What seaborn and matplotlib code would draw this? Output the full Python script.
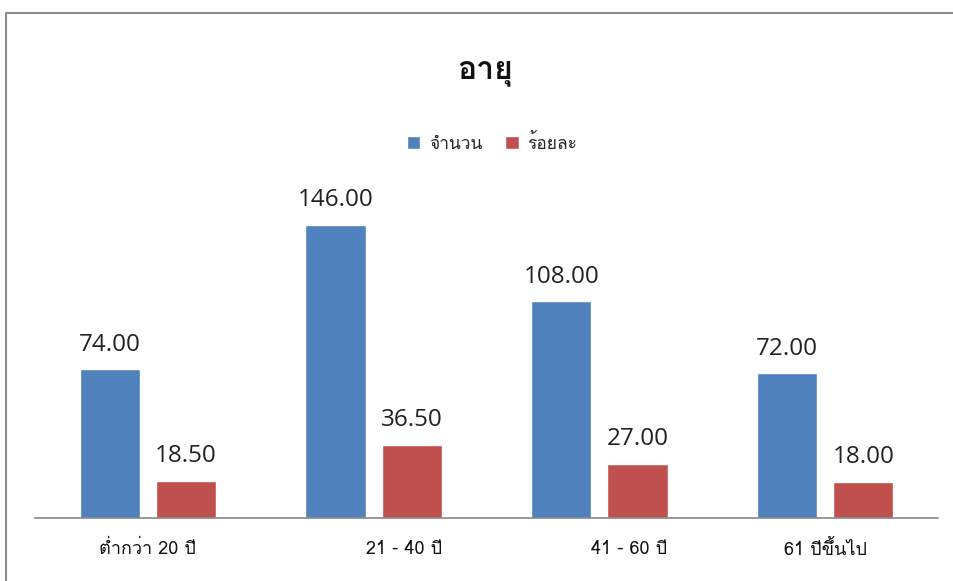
import matplotlib
matplotlib.use("Agg")
import pandas as pd
import seaborn as sns
import matplotlib.pyplot as plt
import matplotlib.transforms as mtransforms
from matplotlib.lines import Line2D

# data
age_groups = ["ต่ำกว่า 20 ปี", "21 - 40 ปี", "41 - 60 ปี", "61 ปีขึ้นไป"]
series_names = ["จำนวน", "ร้อยละ"]
counts = [74, 146, 108, 72]
percents = [18.5, 36.5, 27.0, 18.0]
title = "อายุ"

df = pd.DataFrame({
    "group": age_groups * 2,
    "series": [series_names[0]] * 4 + [series_names[1]] * 4,
    "value": counts + percents,
})

sns.set_style("white")
plt.rcParams["font.family"] = ["Loma", "DejaVu Sans"]

W, H = 954, 581
fig = plt.figure(figsize=(W / 100, H / 100), dpi=100)
ax = fig.add_axes([35 / W, (H - 518) / H, (938 - 35) / W, (518 - 200) / H])

sns.barplot(data=df, x="group", y="value", hue="series", order=age_groups,
            hue_order=series_names, palette=["#4F81BD", "#C0504D"],
            width=0.676, gap=0.21, ax=ax, saturation=1)

ax.set_ylim(0, 158.4)
ax.set_xlim(-0.5, 3.5)
ax.set_xlabel("")
ax.set_ylabel("")
ax.set_yticks([])
for s in ["left", "right", "top"]:
    ax.spines[s].set_visible(False)
ax.spines["bottom"].set_color("#888888")
ax.spines["bottom"].set_linewidth(1.2)
ax.tick_params(axis="x", length=0, pad=16, labelsize=13, labelcolor="#111111")

# the two middle labels sit a little right of their bars in the original
for i, lab in enumerate(ax.get_xticklabels()):
    if i in (1, 2):
        lab.set_transform(lab.get_transform() + mtransforms.ScaledTranslation(0.30, 0, fig.dpi_scale_trans))

for cont in ax.containers:
    ax.bar_label(cont, fmt="%.2f", padding=9, fontsize=17.5,
                 family=["Open Sans", "DejaVu Sans"], color="#222222")

handles, labels = ax.get_legend_handles_labels()
ax.get_legend().remove()
fig.legend(handles, labels, loc="center", bbox_to_anchor=(492 / W, 1 - 143 / H),
           ncol=2, frameon=False, fontsize=12.5, handlelength=0.8, handleheight=0.8,
           handletextpad=0.5, columnspacing=1.3)

fig.text(485 / W, 1 - 72 / H, title, ha="center", va="center",
         fontsize=23, fontweight="bold", color="#111111")

# grey frame of the chart area
fig.add_artist(Line2D([6 / W, 6 / W], [0, 1 - 13 / H], transform=fig.transFigure,
                      color="#8c8c8c", lw=1.5))
fig.add_artist(Line2D([6 / W, 1], [1 - 13 / H, 1 - 13 / H], transform=fig.transFigure,
                      color="#8c8c8c", lw=1.5))

fig.savefig("out.png", dpi=100)
